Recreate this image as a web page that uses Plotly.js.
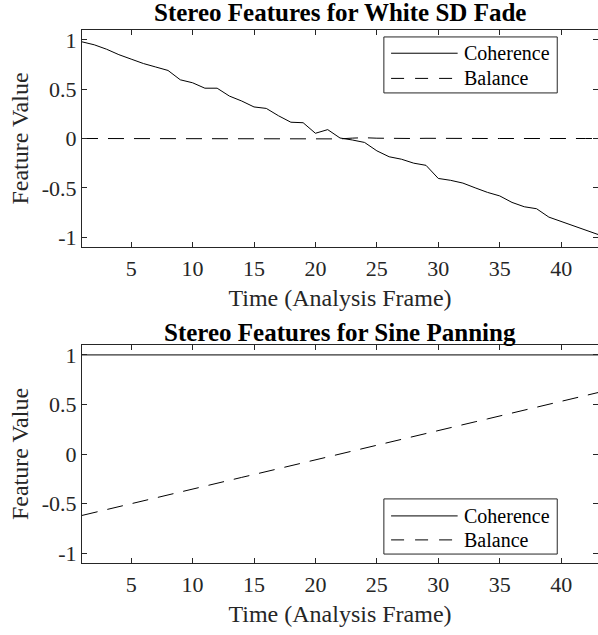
<!DOCTYPE html>
<html>
<head>
<meta charset="utf-8">
<script src="https://cdn.plot.ly/plotly-3.0.1.min.js"></script>
<style>html,body{margin:0;padding:0;background:#fff}#chart{width:598px;height:635px}</style>
</head>
<body>
<div id="chart"></div>
<script>
// ---------- data ----------
var frames = [1,2,3,4,5,6,7,8,9,10,11,12,13,14,15,16,17,18,19,20,21,22,23,24,25,26,27,28,29,30,31,32,33,34,35,36,37,38,39,40,41,42,43];

// Top panel: White SD Fade
var fadeCoherence = [0.98,0.95,0.905,0.85,0.805,0.76,0.725,0.69,0.595,0.565,0.51,0.51,0.43,0.38,0.32,0.305,0.23,0.165,0.16,0.053,0.09,0.005,-0.015,-0.04,-0.125,-0.185,-0.21,-0.25,-0.272,-0.405,-0.424,-0.452,-0.5,-0.546,-0.582,-0.648,-0.692,-0.712,-0.797,-0.84,-0.885,-0.928,-0.973];
var fadeBalance = [0,0,0,0,0,0,-0.002,-0.004,0.001,0,-0.002,0,0.001,0.002,0,-0.001,0,0.002,0,-0.003,0.001,-0.004,0.004,0.008,0.003,0,-0.002,0,0.002,0.003,0,-0.001,0.001,0,0,0.001,0,0,0,0,0,0,0];

// Bottom panel: Sine Panning
var panCoherence = [1,1,1,1,1,1,1,1,1,1,1,1,1,1,1,1,1,1,1,1,1,1,1,1,1,1,1,1,1,1,1,1,1,1,1,1,1,1,1,1,1,1,1];
var panBalance = [-0.62,-0.59,-0.561,-0.531,-0.502,-0.472,-0.443,-0.413,-0.384,-0.354,-0.325,-0.295,-0.266,-0.236,-0.207,-0.177,-0.148,-0.118,-0.089,-0.059,-0.03,0,0.03,0.059,0.089,0.118,0.148,0.177,0.207,0.236,0.266,0.295,0.325,0.354,0.384,0.413,0.443,0.472,0.502,0.531,0.561,0.59,0.62];

var seriesNames = ["Coherence","Balance"];
var titles = ["Stereo Features for White SD Fade","Stereo Features for Sine Panning"];
var xTitle = "Time (Analysis Frame)";
var yTitle = "Feature Value";
var xTickVals = [5,10,15,20,25,30,35,40];
var xTickText = ["5","10","15","20","25","30","35","40"];
var yTickVals = [-1,-0.5,0,0.5,1];
var yTickText = ["-1","-0.5","0","0.5","1"];

// ---------- style ----------
var FONT = "Liberation Serif, Times New Roman, serif";
var AX = "#262626";
var DASH = "16px,10px";

var traces = [
  {x: frames, y: fadeCoherence, name: seriesNames[0], mode: "lines", line: {color: "#000", width: 1}, xaxis: "x", yaxis: "y", showlegend: false},
  {x: frames, y: fadeBalance, name: seriesNames[1], mode: "lines", line: {color: "#000", width: 1, dash: DASH}, xaxis: "x", yaxis: "y", showlegend: false},
  {x: frames, y: panCoherence, name: seriesNames[0], mode: "lines", line: {color: "#000", width: 1}, xaxis: "x2", yaxis: "y2", showlegend: false},
  {x: frames, y: panBalance, name: seriesNames[1], mode: "lines", line: {color: "#000", width: 1, dash: DASH}, xaxis: "x2", yaxis: "y2", showlegend: false}
];

function xAxis(anchor) {
  return {
    anchor: anchor, domain: [0, 1], range: [1, 43],
    tickmode: "array", tickvals: xTickVals, ticktext: xTickText,
    ticks: "inside", ticklen: 5, tickwidth: 1, tickcolor: AX,
    showline: true, linecolor: AX, linewidth: 1, mirror: "ticks",
    showgrid: false, zeroline: false,
    tickfont: {family: FONT, size: 22, color: AX}, ticklabelstandoff: 2,
    title: {text: xTitle, font: {family: FONT, size: 24, color: AX}, standoff: 8},
    automargin: false
  };
}
function yAxis(anchor, dom) {
  return {
    anchor: anchor, domain: dom, range: [-1.1, 1.1],
    tickmode: "array", tickvals: yTickVals, ticktext: yTickText,
    ticks: "inside", ticklen: 5, tickwidth: 1, tickcolor: AX,
    showline: true, linecolor: AX, linewidth: 1, mirror: "ticks",
    showgrid: false, zeroline: false,
    tickfont: {family: FONT, size: 22, color: AX},
    title: {text: yTitle, font: {family: FONT, size: 24, color: AX}, standoff: 6},
    automargin: false
  };
}

var H = 635;
var topDom = [1 - 247 / H, 1 - 30 / H];
var botDom = [1 - 563 / H, 1 - 345 / H];

// legend drawn per panel
function legendShapes(xr, yr, box, yC, yB) {
  return [
    {type: "rect", xref: xr, yref: yr, x0: box[0], x1: box[1], y0: box[2], y1: box[3], line: {color: AX, width: 1}, fillcolor: "#fff"},
    {type: "line", xref: xr, yref: yr, x0: 0.599, x1: 0.728, y0: yC, y1: yC, line: {color: "#000", width: 1}},
    {type: "line", xref: xr, yref: yr, x0: 0.599, x1: 0.728, y0: yB, y1: yB, line: {color: "#000", width: 1, dash: "13px,11px"}}
  ];
}
function legendTexts(xr, yr, yC, yB) {
  return [
    {xref: xr, yref: yr, x: 0.737, y: yC, xanchor: "left", yanchor: "middle", text: seriesNames[0], showarrow: false, font: {family: FONT, size: 20, color: "#000"}},
    {xref: xr, yref: yr, x: 0.737, y: yB, xanchor: "left", yanchor: "middle", text: seriesNames[1], showarrow: false, font: {family: FONT, size: 20, color: "#000"}}
  ];
}

var shapes = [].concat(
  legendShapes("x domain", "y domain", [0.585, 0.921, 0.710, 0.968], 0.893, 0.777),
  legendShapes("x2 domain", "y2 domain", [0.585, 0.921, 0.041, 0.294], 0.216, 0.106)
);
var annotations = [
  {xref: "paper", yref: "paper", x: 0.5, y: 1 - 13 / H, xanchor: "center", yanchor: "middle", text: "<b>" + titles[0] + "</b>", showarrow: false, font: {family: FONT, size: 25, color: "#000"}},
  {xref: "paper", yref: "paper", x: 0.5, y: 1 - 332 / H, xanchor: "center", yanchor: "middle", text: "<b>" + titles[1] + "</b>", showarrow: false, font: {family: FONT, size: 25, color: "#000"}}
].concat(
  legendTexts("x domain", "y domain", 0.893, 0.777),
  legendTexts("x2 domain", "y2 domain", 0.216, 0.106)
);

var layout = {
  width: 598, height: 635,
  margin: {l: 82, r: 0, t: 0, b: 0},
  paper_bgcolor: "#fff", plot_bgcolor: "#fff",
  showlegend: false,
  xaxis: xAxis("y"), yaxis: yAxis("x", topDom),
  xaxis2: xAxis("y2"), yaxis2: yAxis("x2", botDom),
  shapes: shapes,
  annotations: annotations
};

Plotly.newPlot("chart", traces, layout, {displayModeBar: false, staticPlot: true});
</script>
</body>
</html>
